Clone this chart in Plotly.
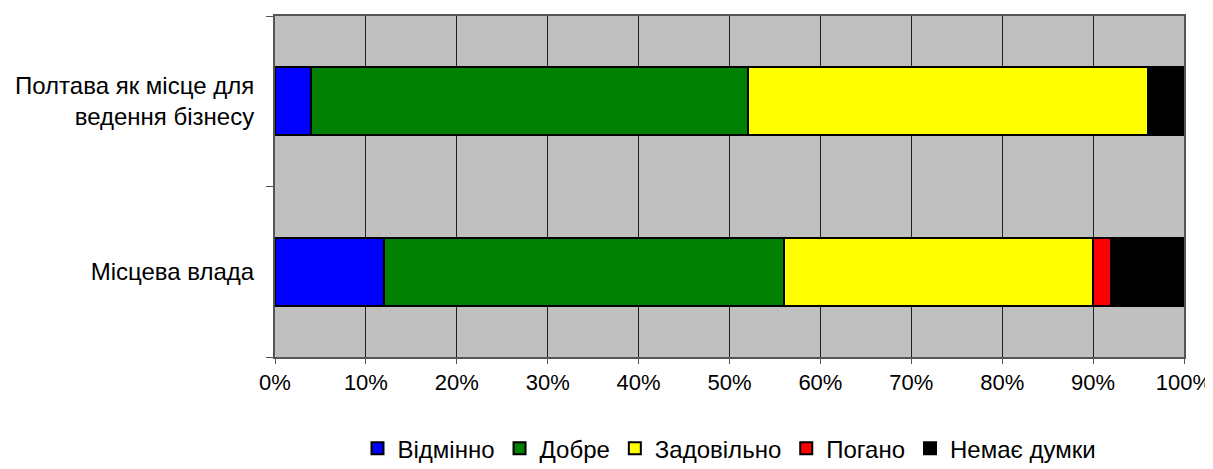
import plotly.graph_objects as go

categories = ["Місцева влада", "Полтава як місце для<br>ведення бізнесу"]
series_names = ["Відмінно", "Добре", "Задовільно", "Погано", "Немає думки"]
series_values = [
    [12, 4],
    [44, 48],
    [34, 44],
    [2, 0],
    [8, 4],
]
colors = ["#0000FF", "#008000", "#FFFF00", "#FF0000", "#000000"]
tick_vals = [0, 10, 20, 30, 40, 50, 60, 70, 80, 90, 100]
tick_text = [f"{v}%" for v in tick_vals]

fig = go.Figure()
for name, vals, col in zip(series_names, series_values, colors):
    fig.add_trace(go.Bar(
        y=categories, x=vals, name=name, orientation="h",
        marker=dict(color=col, line=dict(color="black", width=2)),
    ))

fig.update_layout(
    width=1213, height=469,
    barmode="stack", bargap=0.6,
    plot_bgcolor="#C0C0C0", paper_bgcolor="white",
    margin=dict(l=267, r=37, t=6, b=113),
    font=dict(family="Liberation Sans, Arial", size=24, color="black"),
    legend=dict(orientation="h", x=0.5, xanchor="center", y=-0.269, yanchor="middle",
                font=dict(size=24), itemwidth=30, traceorder="normal"),
    showlegend=True,
)
fig.update_xaxes(
    range=[0, 100], tickvals=tick_vals, ticktext=tick_text,
    showgrid=True, gridcolor="#202020", gridwidth=1,
    showline=True, linecolor="#555555", linewidth=2, mirror=True,
    ticks="outside", ticklen=5, tickcolor="#555555",
    zeroline=False, tickfont=dict(size=22),
)
fig.update_yaxes(
    range=[-0.5, 1.5], showgrid=False,
    showline=True, linecolor="#555555", linewidth=2, mirror=True,
    ticks="outside", ticklen=7, tickcolor="#555555", tickson="boundaries",
    tickfont=dict(size=24), ticklabelstandoff=14,
)
fig.write_html("out.html")
